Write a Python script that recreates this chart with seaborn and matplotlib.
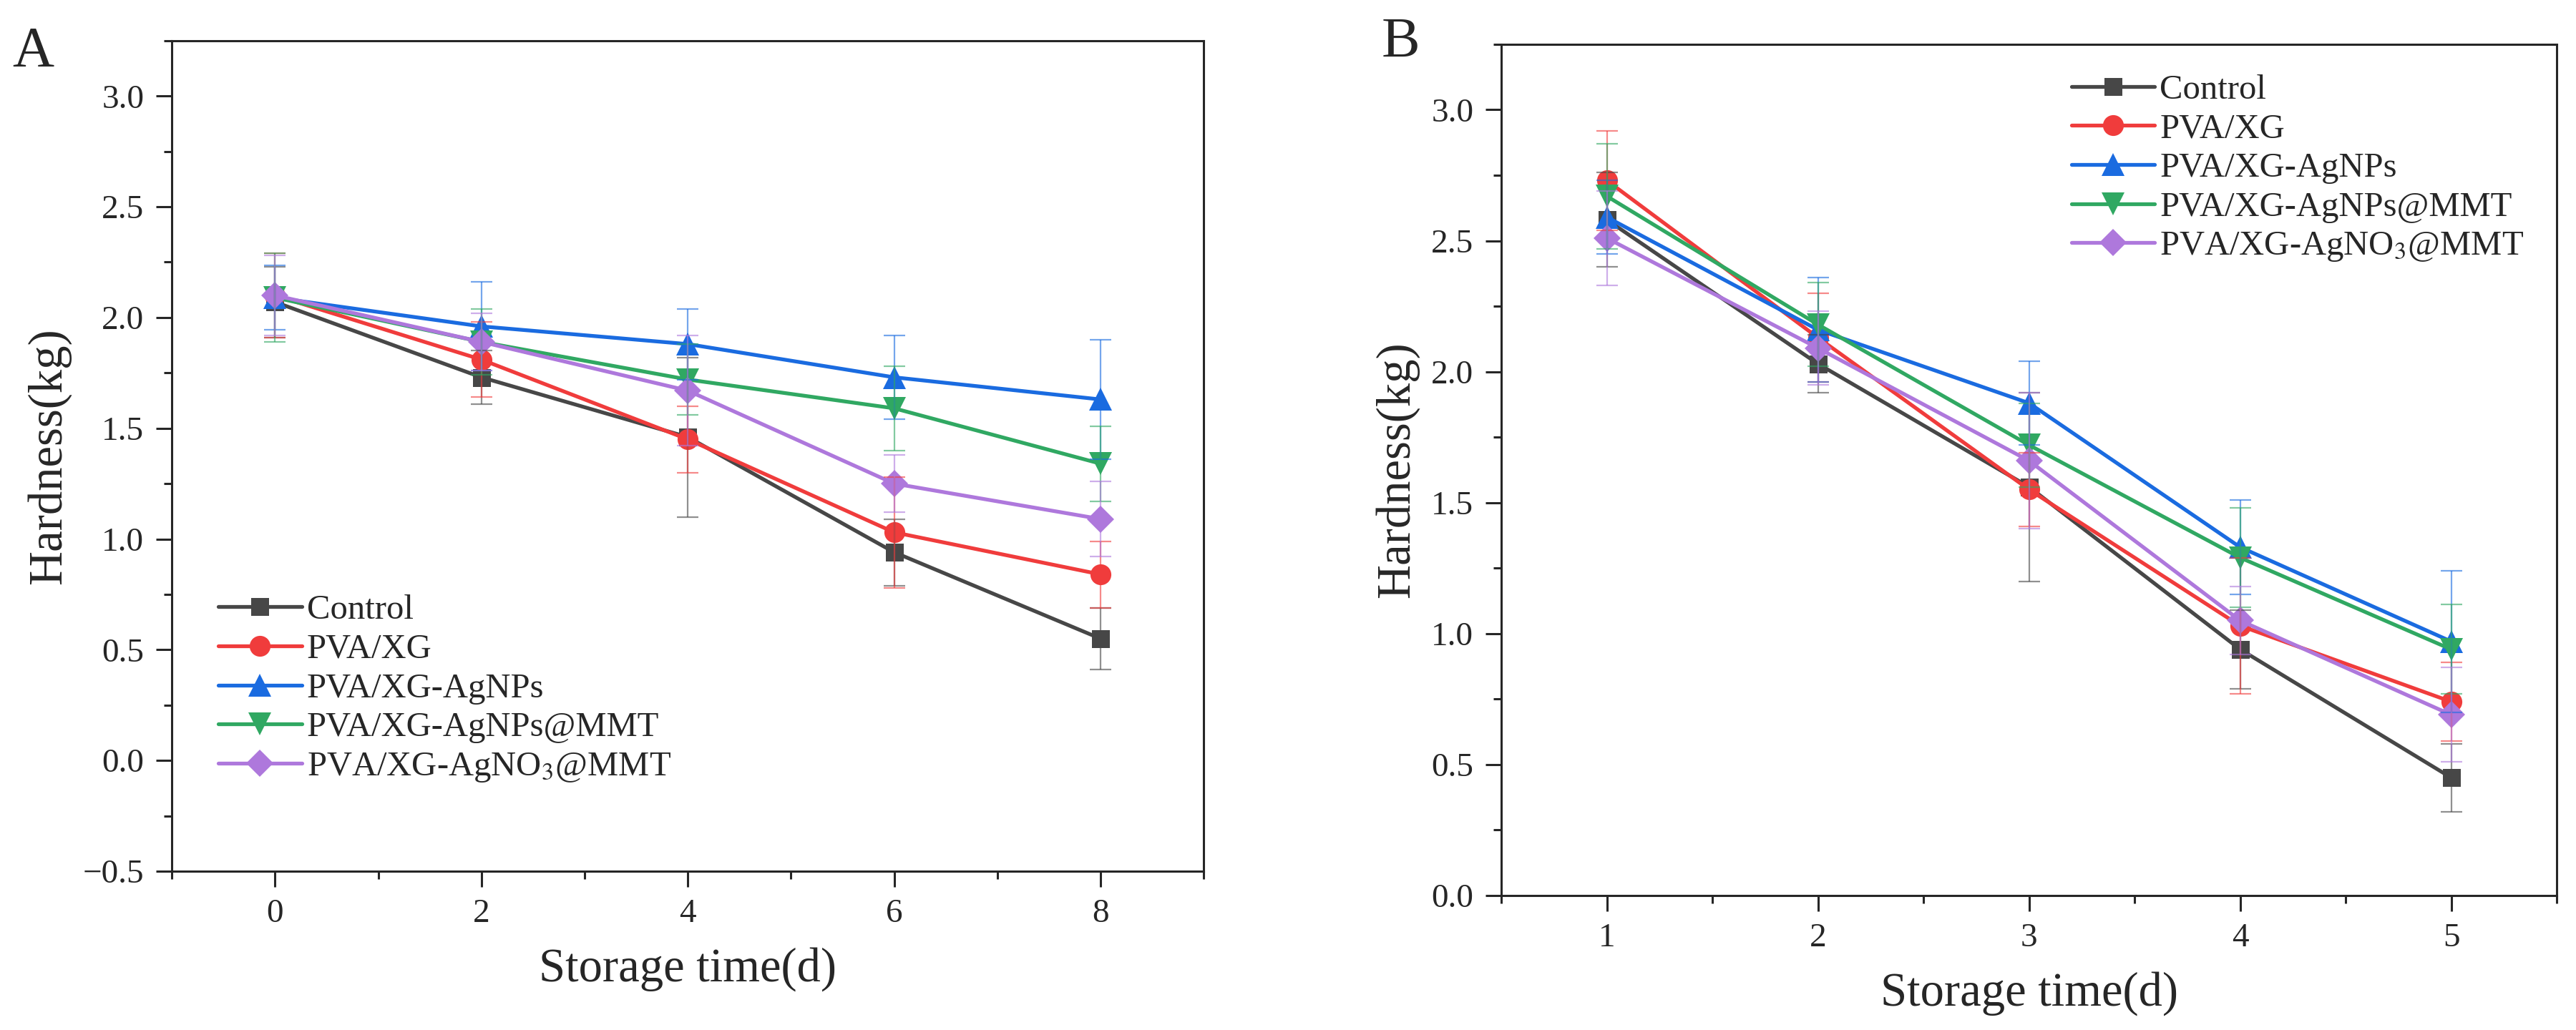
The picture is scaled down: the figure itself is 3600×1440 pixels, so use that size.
import numpy as np
import pandas as pd
import matplotlib
matplotlib.use("Agg")
import matplotlib.pyplot as plt
import seaborn as sns
from matplotlib.ticker import MultipleLocator

# ---- data ----
series = ["Control", "PVA/XG", "PVA/XG-AgNPs", "PVA/XG-AgNPs@MMT", "PVA/XG-AgNO$_3$@MMT"]

days_a = [0, 2, 4, 6, 8]
control_a = [2.07, 1.73, 1.46, 0.94, 0.55]
pvaxg_a = [2.10, 1.81, 1.45, 1.03, 0.84]
agnps_a = [2.09, 1.96, 1.88, 1.73, 1.63]
agnps_mmt_a = [2.09, 1.89, 1.72, 1.59, 1.34]
agno3_mmt_a = [2.10, 1.89, 1.67, 1.25, 1.09]

control_a_sd = [0.16, 0.12, 0.36, 0.15, 0.14]
pvaxg_a_sd = [0.19, 0.17, 0.15, 0.25, 0.15]
agnps_a_sd = [0.145, 0.20, 0.16, 0.19, 0.27]
agnps_mmt_a_sd = [0.20, 0.15, 0.16, 0.19, 0.17]
agno3_mmt_a_sd = [0.18, 0.13, 0.25, 0.13, 0.17]

days_b = [1, 2, 3, 4, 5]
control_b = [2.58, 2.03, 1.56, 0.94, 0.45]
pvaxg_b = [2.73, 2.13, 1.55, 1.03, 0.74]
agnps_b = [2.59, 2.16, 1.88, 1.33, 0.97]
agnps_mmt_b = [2.67, 2.18, 1.72, 1.29, 0.94]
agno3_mmt_b = [2.51, 2.09, 1.66, 1.05, 0.69]

control_b_sd = [0.18, 0.11, 0.36, 0.15, 0.13]
pvaxg_b_sd = [0.19, 0.17, 0.14, 0.26, 0.15]
agnps_b_sd = [0.14, 0.20, 0.16, 0.18, 0.27]
agnps_mmt_b_sd = [0.20, 0.16, 0.16, 0.19, 0.17]
agno3_mmt_b_sd = [0.18, 0.14, 0.26, 0.13, 0.18]

colors = ["#474747", "#f03c3c", "#1a6be0", "#30a862", "#ae78dc"]
markers = ["s", "o", "^", "v", "D"]
marker_sizes = [18, 21, 23, 23, 19]


def long_frame(days, values, sds):
    rows = []
    for name, vals, errs in zip(series, values, sds):
        for d, v, e in zip(days, vals, errs):
            rows.append({"day": d, "hardness": v, "sd": e, "group": name})
    return pd.DataFrame(rows)


df_a = long_frame(days_a,
                  [control_a, pvaxg_a, agnps_a, agnps_mmt_a, agno3_mmt_a],
                  [control_a_sd, pvaxg_a_sd, agnps_a_sd, agnps_mmt_a_sd, agno3_mmt_a_sd])
df_b = long_frame(days_b,
                  [control_b, pvaxg_b, agnps_b, agnps_mmt_b, agno3_mmt_b],
                  [control_b_sd, pvaxg_b_sd, agnps_b_sd, agnps_mmt_b_sd, agno3_mmt_b_sd])

sns.set_theme(style="ticks")
plt.rcParams["font.family"] = ["Liberation Serif", "DejaVu Serif"]
plt.rcParams["mathtext.fontset"] = "stix"
plt.rcParams["axes.linewidth"] = 2.2
plt.rcParams["axes.unicode_minus"] = True


def draw_panel(ax, df, legend_kw):
    sns.lineplot(data=df, x="day", y="hardness", hue="group", style="group",
                 hue_order=series, style_order=series,
                 palette=colors, markers=markers, dashes=False,
                 linewidth=3.8, markeredgewidth=0, legend=False, ax=ax)
    handles = list(ax.lines)
    for line, ms in zip(handles, marker_sizes):
        line.set_markersize(ms)
        line.set_zorder(3)
    # error bars drawn on top, lighter
    for name, c in zip(series, colors):
        sub = df[df["group"] == name]
        ax.errorbar(sub["day"], sub["hardness"], yerr=sub["sd"], fmt="none",
                    ecolor=c, elinewidth=1.6, capsize=11, capthick=1.6,
                    alpha=0.6, zorder=4)
    ax.legend(handles, series, frameon=False, fontsize=35,
              handlelength=2.4, handletextpad=0.15, labelspacing=0.22,
              borderpad=0, borderaxespad=0, **legend_kw)
    for side in ["top", "right"]:
        ax.spines[side].set_visible(True)
    ax.tick_params(axis="both", which="major", direction="out", length=16,
                   width=2.2, labelsize=34, pad=12)
    ax.tick_params(axis="both", which="minor", direction="out", length=8,
                   width=2.2)
    ax.set_xlabel("Storage time(d)", fontsize=48, labelpad=18)
    ax.set_ylabel("Hardness(kg)", fontsize=48, labelpad=12)
    ax.yaxis.set_major_locator(MultipleLocator(0.5))
    ax.yaxis.set_minor_locator(MultipleLocator(0.25))


fig = plt.figure(figsize=(36, 14.4), dpi=100)
fig.patch.set_facecolor("white")

ax_a = fig.add_axes([0.0667, 0.1542, 0.4006, 0.8063])
draw_panel(ax_a, df_a, dict(loc="lower left", bbox_to_anchor=(0.045, 0.105)))
ax_a.set_xlim(-1, 9)
ax_a.set_ylim(-0.5, 3.25)
ax_a.xaxis.set_major_locator(MultipleLocator(2))
ax_a.xaxis.set_minor_locator(MultipleLocator(1))

ax_b = fig.add_axes([0.5828, 0.1306, 0.4097, 0.8264])
draw_panel(ax_b, df_b, dict(loc="upper left", bbox_to_anchor=(0.54, 0.965)))
ax_b.set_xlim(0.5, 5.5)
ax_b.set_ylim(0, 3.25)
ax_b.xaxis.set_major_locator(MultipleLocator(1))
ax_b.xaxis.set_minor_locator(MultipleLocator(0.5))

fig.text(17 / 3600, 1 - 93 / 1440, "A", fontsize=58, va="baseline", ha="left")
fig.text(1931 / 3600, 1 - 80 / 1440, "B", fontsize=58, va="baseline", ha="left")

fig.savefig("out.png", dpi=100, facecolor="white")
plt.close(fig)
